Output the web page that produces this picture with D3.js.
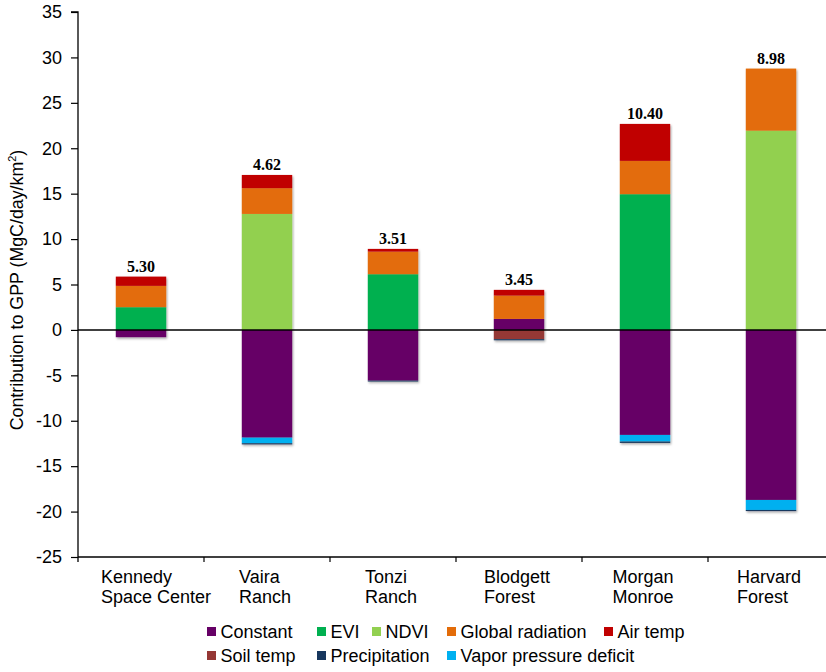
<!DOCTYPE html>
<html>
<head>
<meta charset="utf-8">
<script src="https://cdn.jsdelivr.net/npm/d3@7"></script>
<style>
  html, body { margin: 0; padding: 0; background: #fff; }
  svg { display: block; }
</style>
</head>
<body>
<svg id="chart" width="826" height="672"></svg>
<script>
// Sites along the x axis (two-line labels)
const sites = ["Kennedy Space Center", "Vaira Ranch", "Tonzi Ranch", "Blodgett Forest", "Morgan Monroe", "Harvard Forest"];
const siteLines = [["Kennedy", "Space Center"], ["Vaira", "Ranch"], ["Tonzi", "Ranch"], ["Blodgett", "Forest"], ["Morgan", "Monroe"], ["Harvard", "Forest"]];

// Contribution of each term to GPP (MgC/day/km2), one value per site
const constant      = [-0.80, -11.86, -5.58, 1.21, -11.56, -18.72];
const evi           = [ 2.50,   0.00,  6.13, 0.00,  14.94,   0.00];
const ndvi          = [ 0.00,  12.77,  0.00, 0.00,   0.00,  21.94];
const globalRad     = [ 2.35,   2.83,  2.49, 2.57,   3.67,   6.83];
const airTemp       = [ 1.02,   1.46,  0.30, 0.63,   4.07,   0.00];
const soilTemp      = [ 0.00,   0.00,  0.00, -1.02,  0.00,   0.00];
const precipitation = [ 0.00,  -0.12, -0.10, -0.12, -0.15,  -0.12];
const vpd           = [ 0.00,  -0.62,  0.00, 0.00,  -0.73,  -1.10];

// Values printed above each bar
const barLabels = ["5.30", "4.62", "3.51", "3.45", "10.40", "8.98"];

// Y axis ticks
const yTicks = [-25, -20, -15, -10, -5, 0, 5, 10, 15, 20, 25, 30, 35];

// Series: legend order, names and colours
const seriesKeys   = ["constant", "evi", "ndvi", "globalRad", "airTemp", "soilTemp", "precipitation", "vpd"];
const seriesNames  = ["Constant", "EVI", "NDVI", "Global radiation", "Air temp", "Soil temp", "Precipitation", "Vapor pressure deficit"];
const seriesColors = ["#660066", "#00B050", "#92D050", "#E36C09", "#C00000", "#953735", "#17375E", "#00B0F0"];

// Stacking order (negative parts stack: constant, soil temp, VPD, then precipitation at the bottom)
const stackKeys = ["constant", "evi", "ndvi", "globalRad", "airTemp", "soilTemp", "vpd", "precipitation"];

const seriesValues = { constant, evi, ndvi, globalRad, airTemp, soilTemp, precipitation, vpd };
const rows = sites.map((s, i) => {
  const r = { site: s };
  seriesKeys.forEach(k => r[k] = seriesValues[k][i]);
  return r;
});
const colorOf = d3.scaleOrdinal(seriesKeys, seriesColors);

const svg = d3.select("#chart");
const plot = { left: 78, right: 834, top: 12, bottom: 557 };

const x = d3.scaleBand().domain(sites).range([plot.left, plot.right]).padding(0);
const y = d3.scaleLinear().domain([-25, 35]).range([plot.bottom, plot.top]);
const barW = x.bandwidth() * 0.4;

// Soft shadow under each stacked bar
const defs = svg.append("defs");
const f = defs.append("filter").attr("id", "shadow").attr("x", "-10%").attr("y", "-10%").attr("width", "130%").attr("height", "130%");
f.append("feDropShadow").attr("dx", 1).attr("dy", 1.5).attr("stdDeviation", 1).attr("flood-color", "#000").attr("flood-opacity", 0.35);

const stacked = d3.stack().keys(stackKeys).offset(d3.stackOffsetDiverging)(rows);

// Bars, one group per site
const barGroups = svg.append("g").selectAll("g")
  .data(sites)
  .join("g")
  .attr("filter", "url(#shadow)");

barGroups.each(function(site, i) {
  const g = d3.select(this);
  stacked.forEach(layer => {
    const seg = layer[i];
    if (seg[0] === seg[1]) return;
    g.append("rect")
      .attr("x", x(site) + (x.bandwidth() - barW) / 2)
      .attr("width", barW)
      .attr("y", y(Math.max(seg[0], seg[1])))
      .attr("height", Math.abs(y(seg[0]) - y(seg[1])))
      .attr("fill", colorOf(layer.key));
  });
});

// Value labels above the positive stack
svg.append("g").selectAll("text")
  .data(sites)
  .join("text")
  .attr("x", d => x(d) + x.bandwidth() / 2)
  .attr("y", (d, i) => {
    const top = d3.max(stacked, layer => Math.max(layer[i][0], layer[i][1]));
    return y(top) - 5;
  })
  .attr("text-anchor", "middle")
  .attr("font-family", "'Liberation Serif', 'Times New Roman', serif")
  .attr("font-weight", "bold")
  .attr("font-size", 16)
  .attr("fill", "#000")
  .text((d, i) => barLabels[i]);

// Y axis
const yAxis = svg.append("g")
  .attr("transform", `translate(${plot.left},0)`)
  .call(d3.axisLeft(y).tickValues(yTicks).tickSize(7).tickPadding(9).tickFormat(d => String(d)));
yAxis.select(".domain").attr("stroke", "#000").attr("stroke-width", 1.3).attr("d", `M-7,${plot.top}H0V${plot.bottom + 5}`);
yAxis.selectAll(".tick line").attr("stroke", "#000").attr("stroke-width", 1.2);
yAxis.selectAll(".tick text")
  .attr("font-family", "'Liberation Sans', Arial, sans-serif")
  .attr("font-size", 18)
  .attr("fill", "#000");

// X axis along the bottom, ticks at category boundaries
const xAxisG = svg.append("g");
xAxisG.append("line")
  .attr("x1", plot.left).attr("x2", 826)
  .attr("y1", plot.bottom).attr("y2", plot.bottom)
  .attr("stroke", "#000").attr("stroke-width", 1.5);
xAxisG.selectAll("line.tick")
  .data(sites.slice(1))
  .join("line")
  .attr("class", "tick")
  .attr("x1", d => x(d)).attr("x2", d => x(d))
  .attr("y1", plot.bottom).attr("y2", plot.bottom + 5)
  .attr("stroke", "#000").attr("stroke-width", 1.2);

// Category labels: lines left-aligned, block centred under the category
const catG = svg.append("g")
  .attr("font-family", "'Liberation Sans', Arial, sans-serif")
  .attr("font-size", 18)
  .attr("fill", "#000");
siteLines.forEach((lines, i) => {
  const t = catG.append("text").attr("y", 583);
  lines.forEach((ln, j) => t.append("tspan").attr("dy", j === 0 ? 0 : 19.5).text(ln));
  const w = d3.max(t.selectAll("tspan").nodes(), n => n.getComputedTextLength());
  const c = x(sites[i]) + x.bandwidth() / 2;
  const left = Math.max(c - w / 2, c - 38) - 2;
  t.attr("x", left).selectAll("tspan").attr("x", left);
});

// Zero line
svg.append("line")
  .attr("x1", plot.left).attr("x2", 826)
  .attr("y1", y(0)).attr("y2", y(0))
  .attr("stroke", "#000").attr("stroke-width", 1.5);

// Y axis title
svg.append("text")
  .attr("transform", `translate(23,290) rotate(-90)`)
  .attr("text-anchor", "middle")
  .attr("font-family", "'Liberation Sans', Arial, sans-serif")
  .attr("font-size", 17.8)
  .attr("fill", "#000")
  .call(t => {
    t.append("tspan").text("Contribution to GPP (MgC/day/km");
    t.append("tspan").attr("font-size", 11).attr("dy", -7).text("2");
    t.append("tspan").attr("dy", 7).text(")");
  });

// Legend: two rows
const legendLayout = [
  { x: 207, y: 627 }, { x: 317, y: 627 }, { x: 372, y: 627 }, { x: 447, y: 627 }, { x: 604, y: 627 },
  { x: 207, y: 651 }, { x: 317, y: 651 }, { x: 447, y: 651 }
];
const legend = svg.append("g")
  .attr("font-family", "'Liberation Sans', Arial, sans-serif")
  .attr("font-size", 18)
  .attr("fill", "#000");
seriesKeys.forEach((k, i) => {
  const p = legendLayout[i];
  legend.append("rect")
    .attr("x", p.x).attr("y", p.y).attr("width", 9).attr("height", 9)
    .attr("fill", colorOf(k));
  legend.append("text")
    .attr("x", p.x + 13.5).attr("y", p.y + 11)
    .text(seriesNames[i]);
});
</script>
</body>
</html>
